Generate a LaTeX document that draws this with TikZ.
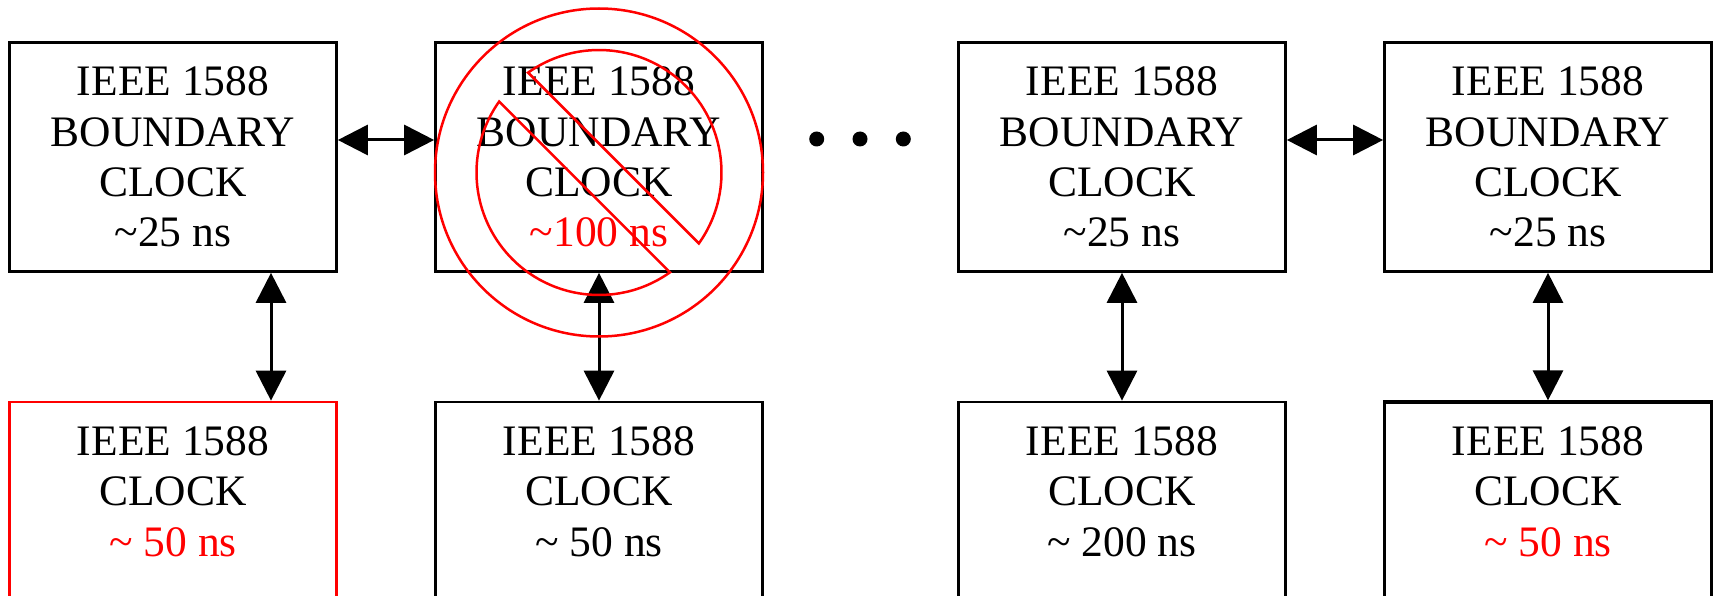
\documentclass[tikz,border=0pt]{standalone}
\usepackage{fontspec}
\setmainfont{Liberation Serif}
\usetikzlibrary{arrows.meta,calc}
\begin{document}
\begin{tikzpicture}[x=1pt,y=-1pt,
  box/.style={draw=black, line width=2.7pt, minimum width=327pt, minimum height=229pt,
    inner sep=0pt, align=center, font=\fontsize{43.5}{50.4}\selectfont},
  link/.style={line width=3pt, {Triangle[length=30pt,width=30pt]}-{Triangle[length=30pt,width=30pt]}},
  nosign/.style={draw=red, line width=2.5pt},
  dot/.style={circle, fill=black, inner sep=0pt, minimum size=15pt}]
\clip (0,0) rectangle (1717,596);
% top row
\node[box] (t1) at (173,157) {IEEE 1588\\BOUNDARY\\CLOCK\\\textasciitilde25 ns};
\node[box] (t2) at (599,157) {IEEE 1588\\BOUNDARY\\CLOCK\\{\color{red}\textasciitilde100 ns}};
\node[box] (t3) at (1122,157) {IEEE 1588\\BOUNDARY\\CLOCK\\\textasciitilde25 ns};
\node[box] (t4) at (1548,157) {IEEE 1588\\BOUNDARY\\CLOCK\\\textasciitilde25 ns};
% bottom row
\node[box, draw=red] (b1) at (173,516.5) {IEEE 1588\\CLOCK\\{\color{red}\textasciitilde{} 50 ns}\\\mbox{}};
\node[box] (b2) at (599,516.5) {IEEE 1588\\CLOCK\\\textasciitilde{} 50 ns\\\mbox{}};
\node[box] (b3) at (1122,516.5) {IEEE 1588\\CLOCK\\\textasciitilde{} 200 ns\\\mbox{}};
\node[box, line width=3.3pt] (b4) at (1548,516.5) {IEEE 1588\\CLOCK\\{\color{red}\textasciitilde{} 50 ns}\\\mbox{}};
% dots
\node[dot] (d1) at (816.7,139) {};
\node[dot] (d2) at (860,139) {};
\node[dot] (d3) at (903.3,139) {};
% connectors
\draw[link] ([yshift=17pt]t1.east) -- ([yshift=17pt]t2.west);
\draw[link] ([yshift=17pt]t3.east) -- ([yshift=17pt]t4.west);
\draw[link] ([xshift=98pt]t1.south) -- ([xshift=98pt]b1.north);
\draw[link] (t2.south) -- (b2.north);
\draw[link] (t3.south) -- (b3.north);
\draw[link] (t4.south) -- (b4.north);
% prohibition sign
\coordinate (ps) at (599,172.5);
\draw[nosign] (ps) circle[radius=164];
\draw[nosign] ($(ps)+(-125.37:122.5)$) -- ($(ps)+(35.37:122.5)$)
  arc[start angle=35.37, end angle=-125.37, radius=122.5] -- cycle;
\draw[nosign] ($(ps)+(215.37:122.5)$) -- ($(ps)+(54.63:122.5)$)
  arc[start angle=54.63, end angle=215.37, radius=122.5] -- cycle;
\end{tikzpicture}
\end{document}
